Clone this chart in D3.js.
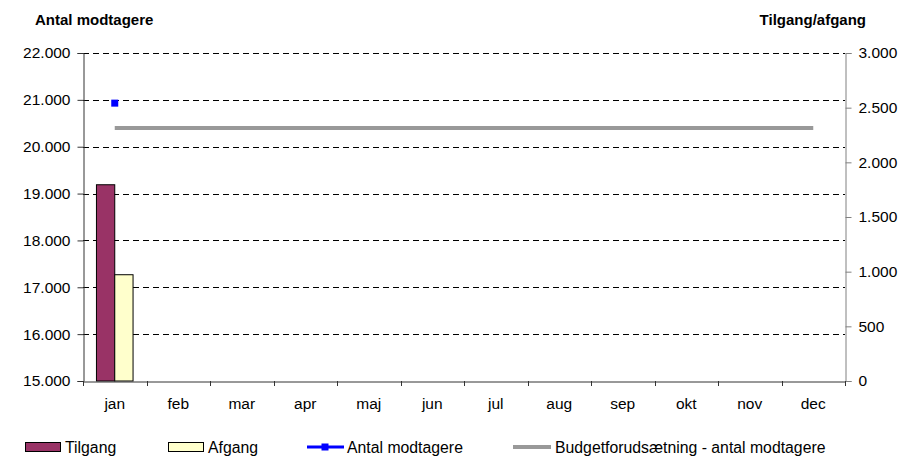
<!DOCTYPE html>
<html>
<head>
<meta charset="utf-8">
<script src="https://cdn.jsdelivr.net/npm/d3@7"></script>
<style>
  body { margin: 0; background: #fff; }
  text { font-family: "Liberation Sans", Arial, sans-serif; }
</style>
</head>
<body>
<div id="chart"></div>
<script>
// data
let months = ["jan","feb","mar","apr","maj","jun","jul","aug","sep","okt","nov","dec"]
let tilgang = [1795, null, null, null, null, null, null, null, null, null, null, null]
let afgang = [972, null, null, null, null, null, null, null, null, null, null, null]
let antal = [20930, null, null, null, null, null, null, null, null, null, null, null]
let budget = [20400, 20400, 20400, 20400, 20400, 20400, 20400, 20400, 20400, 20400, 20400, 20400]
let leftTicks = [15000, 16000, 17000, 18000, 19000, 20000, 21000, 22000]
let rightTicks = [0, 500, 1000, 1500, 2000, 2500, 3000]

let fmt = d3.format(",.0f")
let dk = v => fmt(v).replace(/,/g, ".")

let W = 899, H = 457
let margin = {top: 53, right: 54, bottom: 76, left: 83}
let width = W - margin.left - margin.right,
    height = H - margin.top - margin.bottom

let svg = d3.select("#chart").append("svg")
  .attr("width", W).attr("height", H)

let g = svg.append("g")
  .attr("transform", "translate(" + margin.left + "," + margin.top + ")")

let x = d3.scaleBand().domain(months).range([0, width])
let yL = d3.scaleLinear().domain([15000, 22000]).range([height, 0])
let yR = d3.scaleLinear().domain([0, 3000]).range([height, 0])

// gridlines
g.selectAll(".grid").data(leftTicks.slice(1)).enter().append("line")
  .attr("x1", 0).attr("x2", width)
  .attr("y1", d => Math.round(yL(d)) + 0.5).attr("y2", d => Math.round(yL(d)) + 0.5)
  .attr("stroke", "#000").attr("stroke-dasharray", "6,4")

// bars
let bw = 18.3
let barData = months.map((m, i) => ({m: m, t: tilgang[i], a: afgang[i]}))
g.selectAll(".bt").data(barData.filter(d => d.t != null)).enter().append("rect")
  .attr("x", d => x(d.m) + x.bandwidth() / 2 - bw)
  .attr("y", d => yR(d.t)).attr("width", bw).attr("height", d => height - yR(d.t))
  .attr("fill", "#993366").attr("stroke", "#000").attr("stroke-width", 1)
g.selectAll(".ba").data(barData.filter(d => d.a != null)).enter().append("rect")
  .attr("x", d => x(d.m) + x.bandwidth() / 2)
  .attr("y", d => yR(d.a)).attr("width", bw).attr("height", d => height - yR(d.a))
  .attr("fill", "#ffffcc").attr("stroke", "#000").attr("stroke-width", 1)

// budget line
let cx = m => x(m) + x.bandwidth() / 2
g.append("path")
  .datum(months.map((m, i) => [m, budget[i]]))
  .attr("d", d3.line().x(d => cx(d[0])).y(d => yL(d[1])))
  .attr("fill", "none").attr("stroke", "#999").attr("stroke-width", 4)

// antal modtagere
let antalPts = months.map((m, i) => [m, antal[i]]).filter(d => d[1] != null)
g.append("path")
  .datum(antalPts)
  .attr("d", d3.line().x(d => cx(d[0])).y(d => yL(d[1])))
  .attr("fill", "none").attr("stroke", "#0000ff").attr("stroke-width", 3)
g.selectAll(".pt").data(antalPts).enter().append("rect")
  .attr("x", d => cx(d[0]) - 3.5).attr("y", d => yL(d[1]) - 3.5)
  .attr("width", 7).attr("height", 7).attr("fill", "#0000ff")

// axes
let axL = g.append("g").attr("transform", "translate(0.5,0)")
  .call(d3.axisLeft(yL).tickValues(leftTicks).tickFormat(dk).tickSize(6).tickPadding(7))
axL.select(".domain").attr("stroke", "#333")
axL.selectAll(".tick line").attr("stroke", "#333")

let axR = g.append("g").attr("transform", "translate(" + (width + 0.5) + ",0)")
  .call(d3.axisRight(yR).tickValues(rightTicks).tickFormat(dk).tickSize(6).tickPadding(7))
axR.select(".domain").attr("stroke", "#808080")
axR.selectAll(".tick line").attr("stroke", "#808080")

let axB = g.append("g").attr("transform", "translate(0," + (height + 0.5) + ")")
  .call(d3.axisBottom(x).tickSize(0).tickPadding(16))
axB.select(".domain").attr("stroke", "#333")
g.selectAll(".btick").data(d3.range(months.length + 1)).enter().append("line")
  .attr("x1", i => Math.round(i * x.step()) + 0.5).attr("x2", i => Math.round(i * x.step()) + 0.5)
  .attr("y1", height).attr("y2", height + 5).attr("stroke", "#333")

g.selectAll(".tick text").attr("font-size", 15.5).attr("fill", "#000")
  .style("font-family", "'Liberation Sans', Arial, sans-serif")

// titles
svg.append("text").attr("x", 35).attr("y", 25).attr("font-size", 15)
  .attr("font-weight", "bold").text("Antal modtagere")
svg.append("text").attr("x", 866).attr("y", 25).attr("font-size", 15)
  .attr("font-weight", "bold").attr("text-anchor", "end").text("Tilgang/afgang")

// legend
let ly = 447
let fs = 15.8
let leg = svg.append("g")
leg.append("rect").attr("x", 25.5).attr("y", ly - 4.5).attr("width", 35).attr("height", 9)
  .attr("fill", "#993366").attr("stroke", "#000")
leg.append("text").attr("x", 65).attr("y", ly + 6).attr("font-size", fs).text("Tilgang")
leg.append("rect").attr("x", 168.5).attr("y", ly - 4.5).attr("width", 35).attr("height", 9)
  .attr("fill", "#ffffcc").attr("stroke", "#000")
leg.append("text").attr("x", 208).attr("y", ly + 6).attr("font-size", fs).text("Afgang")
leg.append("line").attr("x1", 307).attr("x2", 344).attr("y1", ly).attr("y2", ly)
  .attr("stroke", "#0000ff").attr("stroke-width", 3)
leg.append("rect").attr("x", 321.5).attr("y", ly - 3.5).attr("width", 7).attr("height", 7)
  .attr("fill", "#0000ff")
leg.append("text").attr("x", 347).attr("y", ly + 6).attr("font-size", fs).text("Antal modtagere")
leg.append("line").attr("x1", 513).attr("x2", 551).attr("y1", ly).attr("y2", ly)
  .attr("stroke", "#999").attr("stroke-width", 4)
leg.append("text").attr("x", 555).attr("y", ly + 6).attr("font-size", fs)
  .text("Budgetforudsætning - antal modtagere")
</script>
</body>
</html>
